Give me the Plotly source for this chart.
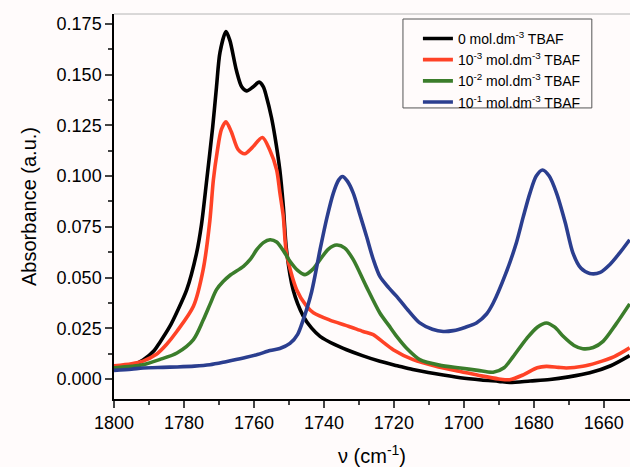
import plotly.graph_objects as go

# Wavenumber (cm-1) and absorbance for each TBAF concentration
wn_0 = [1800, 1795, 1791.7, 1788.5, 1786.9, 1784, 1782, 1779.2, 1776.4, 1775, 1773.5,
        1771.8, 1770.7, 1769.7, 1768, 1766.9, 1765, 1763.5, 1762.1, 1760.2, 1758.5,
        1757.3, 1756.4, 1755, 1754, 1752.6, 1751.6, 1750.7, 1748.8, 1745.9, 1743.5,
        1741.1, 1737, 1733.5, 1729, 1724, 1719, 1714.6, 1708, 1701, 1695, 1690,
        1686.9, 1681, 1675.4, 1670, 1664, 1658, 1652.6]
abs_0 = [0.0045, 0.0065, 0.0093, 0.014, 0.018, 0.026, 0.033, 0.044, 0.062, 0.076, 0.098,
         0.124, 0.144, 0.161, 0.1712, 0.167, 0.152, 0.144, 0.142, 0.144, 0.1463,
         0.144, 0.139, 0.129, 0.1195, 0.103, 0.085, 0.0637, 0.044, 0.031, 0.025,
         0.021, 0.017, 0.0144, 0.0115, 0.0087, 0.0065, 0.0046, 0.0025, 0.0006, -0.0005, -0.0012,
         -0.0017, -0.001, -0.0003, 0.001, 0.003, 0.0065, 0.0115]

wn_3 = [1800, 1795, 1791.7, 1788, 1785, 1782, 1777.3, 1774.5, 1772.6, 1771.6, 1770.5,
        1769.3, 1768, 1766.5, 1764.5, 1762.6, 1760.5, 1757.6, 1755.5, 1753.5, 1752.6,
        1751.6, 1750.7, 1747.8, 1745, 1743, 1738.3, 1733, 1728.8, 1725.9, 1723, 1720.2,
        1714.5, 1708, 1701, 1695, 1690, 1686.9, 1683, 1679, 1676.4, 1673, 1670.7,
        1666, 1662.1, 1657, 1652.6]
abs_3 = [0.0065, 0.0075, 0.0088, 0.012, 0.017, 0.0235, 0.0358, 0.054, 0.078, 0.098, 0.112,
         0.123, 0.1268, 0.122, 0.113, 0.111, 0.114, 0.119, 0.113, 0.103, 0.092,
         0.08, 0.062, 0.044, 0.036, 0.0326, 0.029, 0.026, 0.0234, 0.0218, 0.018, 0.0144,
         0.0095, 0.0062, 0.0037, 0.0015, 0.0, -0.0004, 0.002, 0.0055, 0.0062, 0.0057, 0.0054,
         0.0062, 0.0079, 0.011, 0.0153]

wn_2 = [1800, 1795, 1791.7, 1787, 1782, 1777.3, 1774.5, 1772.5, 1770.7, 1768.8, 1766.9,
        1763, 1761, 1759.2, 1757.3, 1755.4, 1753.5, 1751.5, 1749.7, 1747.5, 1745.4,
        1743.2, 1741.1, 1738.7, 1736.4, 1734, 1731.6, 1728, 1724, 1721.5, 1719.2, 1716,
        1712.6, 1707, 1701, 1696, 1691.6, 1688.5, 1685.9, 1682, 1679, 1676.4, 1674,
        1671.6, 1668.5, 1666, 1663, 1660.2, 1656.5, 1652.6]
abs_2 = [0.0055, 0.0062, 0.007, 0.0095, 0.0128, 0.0194, 0.029, 0.037, 0.044, 0.048, 0.051,
         0.0555, 0.059, 0.0637, 0.0672, 0.0686, 0.0675, 0.063, 0.058, 0.0535, 0.0514,
         0.054, 0.0588, 0.064, 0.066, 0.0645, 0.0588, 0.046, 0.0325, 0.0265, 0.021, 0.0145,
         0.0095, 0.0068, 0.0054, 0.0042, 0.0033, 0.0055, 0.011, 0.02, 0.0255, 0.0276, 0.0255,
         0.021, 0.0165, 0.0149, 0.0155, 0.0185, 0.027, 0.037]

wn_1 = [1800, 1795, 1791.7, 1786, 1782, 1777, 1772.6, 1768, 1763, 1759, 1755.4, 1752.6,
        1749.7, 1747.5, 1745.9, 1743.5, 1741.1, 1739.2, 1737.3, 1735.8, 1734.7, 1733.3,
        1731.6, 1729.7, 1727.8, 1725.9, 1724, 1721.5, 1719.2, 1716, 1712.6, 1709, 1705.9,
        1703, 1699.5, 1696.4, 1693.5, 1691.6, 1688, 1685, 1683, 1681.1, 1679.3, 1677.5,
        1675.6, 1673.5, 1671, 1668.8, 1666.5, 1664, 1661, 1658.3, 1655.5, 1652.6]
abs_1 = [0.0042, 0.0048, 0.0054, 0.0057, 0.0059, 0.0063, 0.007, 0.0085, 0.0103, 0.012, 0.014, 0.015,
         0.0175, 0.022, 0.0292, 0.043, 0.0637, 0.079, 0.0916, 0.098, 0.0998, 0.0975,
         0.0916, 0.081, 0.0702, 0.059, 0.0505, 0.045, 0.0407, 0.034, 0.0276, 0.0245, 0.0234,
         0.0238, 0.0255, 0.0276, 0.032, 0.0374, 0.052, 0.067, 0.08, 0.0916, 0.1, 0.103,
         0.1, 0.0916, 0.077, 0.062, 0.0545, 0.052, 0.0525, 0.0563, 0.062, 0.0686]

names = ["0 mol.dm<sup>-3</sup> TBAF",
         "10<sup>-3</sup> mol.dm<sup>-3</sup> TBAF",
         "10<sup>-2</sup> mol.dm<sup>-3</sup> TBAF",
         "10<sup>-1</sup> mol.dm<sup>-3</sup> TBAF"]
colors = ["#000000", "#ff4226", "#3b7d2b", "#2b3e8f"]
series = [(wn_0, abs_0), (wn_3, abs_3), (wn_2, abs_2), (wn_1, abs_1)]

FONT = "Liberation Sans, Arial, sans-serif"

fig = go.Figure()
for (x, y), name, c in zip(series, names, colors):
    fig.add_trace(go.Scatter(x=x, y=y, mode="lines", name=name,
                             line=dict(color=c, width=3.6, shape="spline", smoothing=0.8)))

fig.update_layout(
    width=630, height=467,
    margin=dict(l=114, r=0, t=14, b=68),
    paper_bgcolor="#fffbfb", plot_bgcolor="#fffbfb",
    font=dict(family=FONT, color="#000000"),
    legend=dict(x=0.589, y=0.977, xanchor="left", yanchor="top",
                bgcolor="rgba(0,0,0,0)", borderwidth=0,
                font=dict(size=14, family=FONT), itemwidth=30, tracegroupgap=0),
    xaxis=dict(range=[1800, 1652.5], tick0=1800, dtick=20, ticks="outside", ticklen=7,
               tickwidth=1.5, showline=True, linecolor="#000000", linewidth=1.5,
               showgrid=False, zeroline=False, tickfont=dict(size=18),
               minor=dict(ticks="outside", ticklen=4, dtick=10, tickwidth=1.5, showgrid=False),
               title=dict(text="ν (cm<sup>-1</sup>)", font=dict(size=20), standoff=20)),
    yaxis=dict(range=[-0.0099, 0.1799], tick0=0, dtick=0.025, tickformat=".3f",
               ticks="outside", ticklen=7, tickwidth=1.5, showline=True,
               linecolor="#000000", linewidth=1.5, showgrid=False, zeroline=False,
               tickfont=dict(size=18),
               minor=dict(ticks="outside", ticklen=4, dtick=0.0125, tickwidth=1.5, showgrid=False),
               title=dict(text="Absorbance (a.u.)", font=dict(size=20), standoff=15)),
)

# light frame line along the top of the plotting area
fig.add_shape(type="line", xref="paper", yref="paper", x0=0, x1=1, y0=1, y1=1,
              line=dict(color="#b4b4b4", width=1))
# legend frame
fig.add_shape(type="rect", xref="paper", yref="paper", x0=0.560, x1=0.926, y0=0.756, y1=0.987,
              line=dict(color="#555555", width=1))

fig.write_html("out.html")
